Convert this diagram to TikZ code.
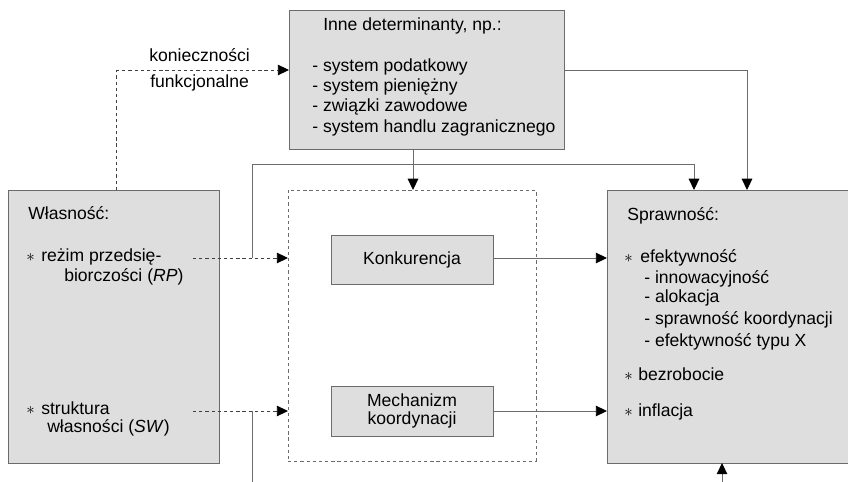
\documentclass[tikz,border=0pt]{standalone}
\usepackage{fontspec}
\setmainfont{Liberation Sans}
\usepackage{tikz}
\usetikzlibrary{arrows.meta}
\definecolor{boxfill}{gray}{0.87}
\definecolor{linegray}{gray}{0.42}
\tikzstyle{none}=[inner sep=0pt]
\tikzstyle{txt}=[inner sep=0pt,anchor=base west,font=\fontsize{12.5}{14.2}\selectfont]
\tikzstyle{label}=[inner sep=0pt,anchor=base,font=\fontsize{12.5}{14.2}\selectfont]
\tikzstyle{box}=[draw=linegray,fill=boxfill,line width=0.7,inner sep=0pt,font=\fontsize{12.5}{12.3}\selectfont,align=center]
\tikzstyle{frame}=[draw=linegray,dash pattern=on 2.3pt off 2.1pt,line width=0.7,inner sep=0pt]
\tikzstyle{arrow}=[-{Triangle[length=8pt,width=7.5pt,color=black]},draw=linegray,line width=0.7]
\tikzstyle{dasharrow}=[arrow,draw=black!75,dash pattern=on 2.3pt off 2.1pt]
\tikzstyle{dashline}=[-,draw=black!75,dash pattern=on 2.3pt off 2.1pt,line width=0.7]
\tikzstyle{simple}=[-,draw=linegray,line width=0.7]
\newcommand{\pkt}{$\ast$}

\begin{document}
\begin{tikzpicture}
  \clip (0,0) rectangle (21.2,-12.05);
  % boxes
  \node [style=box, minimum width=5.275cm, minimum height=6.825cm] (100) at (2.8375, -8.1625) {};
  \node [style=box, minimum width=6.875cm, minimum height=3.475cm] (101) at (10.6625, -1.9875) {};
  \node [style=box, minimum width=6.225cm, minimum height=6.825cm] (102) at (18.2875, -8.1625) {};
  \node [style=frame, minimum width=6.2cm, minimum height=6.775cm] (103) at (10.3, -8.1375) {};
  \node [style=box, minimum width=4.05cm, minimum height=1.225cm] (104) at (10.3, -6.4875) {Konkurencja};
  \node [style=box, minimum width=4.05cm, minimum height=1.25cm] (105) at (10.3, -10.275) {Mechanizm\\koordynacji};
  % texts
  \node [style=txt] (110) at (0.7, -5.5) {Własność:};
  \node [style=txt] (111) at (0.65, -6.55) {\pkt};
  \node [style=txt] (112) at (1.025, -6.55) {reżim przedsię-};
  \node [style=txt] (113) at (1.6, -7.05) {biorczości (\textit{RP})};
  \node [style=txt] (114) at (0.65, -10.35) {\pkt};
  \node [style=txt] (115) at (1.025, -10.35) {struktura};
  \node [style=txt] (116) at (1.175, -10.8) {własności (\textit{SW})};
  \node [style=txt] (120) at (8.075, -0.775) {Inne determinanty, np.:};
  \node [style=txt] (121) at (7.8, -1.8) {- system podatkowy};
  \node [style=txt] (122) at (7.8, -2.3) {- system pieniężny};
  \node [style=txt] (123) at (7.8, -2.8) {- związki zawodowe};
  \node [style=txt] (124) at (7.8, -3.325) {- system handlu zagranicznego};
  \node [style=txt] (130) at (15.675, -5.525) {Sprawność:};
  \node [style=txt] (131) at (15.6, -6.575) {\pkt};
  \node [style=txt] (132) at (16.0, -6.575) {efektywność};
  \node [style=txt] (133) at (16.1, -7.1) {- innowacyjność};
  \node [style=txt] (134) at (16.1, -7.575) {- alokacja};
  \node [style=txt] (135) at (16.1, -8.125) {- sprawność koordynacji};
  \node [style=txt] (136) at (16.1, -8.65) {- efektywność typu X};
  \node [style=txt] (137) at (15.6, -9.5) {\pkt};
  \node [style=txt] (138) at (15.95, -9.5) {bezrobocie};
  \node [style=txt] (139) at (15.6, -10.4) {\pkt};
  \node [style=txt] (140) at (15.95, -10.4) {inflacja};
  \node [style=label] (141) at (4.99, -1.55) {konieczności};
  \node [style=label] (142) at (4.99, -2.2) {funkcjonalne};
  % points
  \node [style=none] (1) at (2.9, -4.75) {};
  \node [style=none] (2) at (2.9, -1.75) {};
  \node [style=none] (3) at (7.225, -1.75) {};
  \node [style=none] (5) at (14.1, -1.75) {};
  \node [style=none] (6) at (18.675, -1.75) {};
  \node [style=none] (7) at (18.675, -4.75) {};
  \node [style=none] (8) at (10.325, -3.725) {};
  \node [style=none] (9) at (10.325, -4.75) {};
  \node [style=none] (10) at (4.825, -6.45) {};
  \node [style=none] (11) at (7.2, -6.45) {};
  \node [style=none] (12) at (6.3, -6.45) {};
  \node [style=none] (13) at (6.3, -4.1) {};
  \node [style=none] (14) at (17.35, -4.1) {};
  \node [style=none] (15) at (17.35, -4.75) {};
  \node [style=none] (16) at (12.325, -6.45) {};
  \node [style=none] (17) at (15.175, -6.45) {};
  \node [style=none] (18) at (4.825, -10.275) {};
  \node [style=none] (19) at (7.2, -10.275) {};
  \node [style=none] (20) at (6.3, -10.275) {};
  \node [style=none] (21) at (6.3, -12.2) {};
  \node [style=none] (22) at (12.325, -10.275) {};
  \node [style=none] (23) at (15.175, -10.275) {};
  \node [style=none] (24) at (18.05, -12.2) {};
  \node [style=none] (25) at (18.05, -11.575) {};
  % connectors
  \draw [style=dashline] (1.center) to (2.center);
  \draw [style=dasharrow] (2.center) to (3.center);
  \draw [style=simple] (5.center) to (6.center);
  \draw [style=arrow] (6.center) to (7.center);
  \draw [style=arrow] (8.center) to (9.center);
  \draw [style=dasharrow] (10.center) to (11.center);
  \draw [style=simple] (12.center) to (13.center);
  \draw [style=simple] (13.center) to (14.center);
  \draw [style=arrow] (14.center) to (15.center);
  \draw [style=arrow] (16.center) to (17.center);
  \draw [style=dasharrow] (18.center) to (19.center);
  \draw [style=simple] (20.center) to (21.center);
  \draw [style=arrow] (22.center) to (23.center);
  \draw [style=arrow] (24.center) to (25.center);
\end{tikzpicture}
\end{document}
